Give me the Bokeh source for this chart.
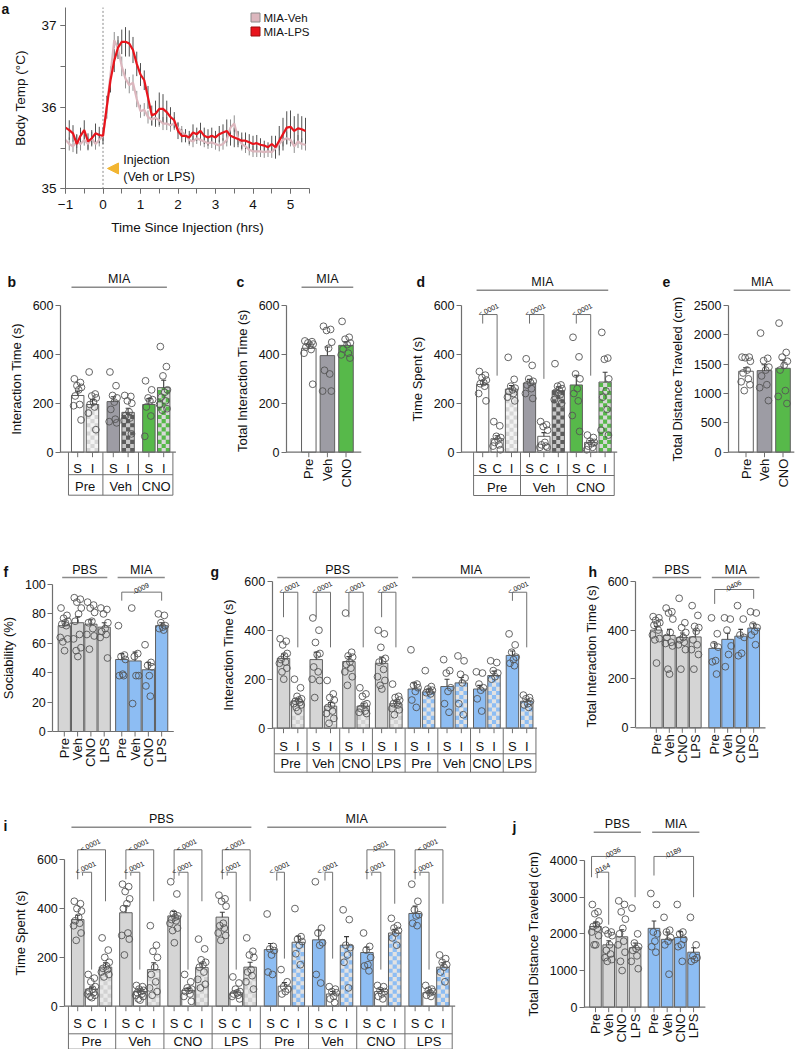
import math
from bokeh.plotting import figure
from bokeh.models import Range1d, Arrow, NormalHead, FixedTicker, SingleIntervalTicker
from bokeh.layouts import row, column
from bokeh.core.properties import value
from bokeh.embed import file_html
from bokeh.resources import INLINE

FONT = "Liberation Sans"

# ---------------- data: panel a (body temperature) ----------------
A_TIME = [-1.0, -0.9, -0.8, -0.7, -0.6, -0.5, -0.4, -0.3, -0.2, -0.1,
          0.0, 0.1, 0.2, 0.3, 0.4, 0.5, 0.6, 0.7, 0.8, 0.9,
          1.0, 1.1, 1.2, 1.3, 1.4, 1.5, 1.6, 1.7, 1.8, 1.9,
          2.0, 2.1, 2.2, 2.3, 2.4, 2.5, 2.6, 2.7, 2.8, 2.9,
          3.0, 3.1, 3.2, 3.3, 3.4, 3.5, 3.6, 3.7, 3.8, 3.9,
          4.0, 4.1, 4.2, 4.3, 4.4, 4.5, 4.6, 4.7, 4.8, 4.9,
          5.0, 5.1, 5.2, 5.3, 5.4]
A_LPS = [35.75, 35.72, 35.68, 35.55, 35.65, 35.72, 35.58, 35.62, 35.68, 35.66,
         35.65, 36.00, 36.33, 36.57, 36.73, 36.80, 36.80, 36.78, 36.70, 36.53,
         36.40, 36.33, 36.12, 35.90, 35.92, 35.98, 35.98, 35.94, 35.88, 35.84,
         35.71, 35.65, 35.65, 35.63, 35.69, 35.67, 35.71, 35.65, 35.63, 35.65,
         35.63, 35.67, 35.69, 35.71, 35.65, 35.63, 35.61, 35.59, 35.59, 35.57,
         35.55, 35.56, 35.54, 35.53, 35.51, 35.55, 35.51, 35.59, 35.67, 35.75,
         35.76, 35.71, 35.74, 35.73, 35.71]
A_LPS_SEM = [0.14, 0.12, 0.10, 0.12, 0.10, 0.12, 0.10, 0.10, 0.12, 0.10,
             0.10, 0.14, 0.15, 0.14, 0.14, 0.15, 0.18, 0.16, 0.16, 0.15,
             0.14, 0.12, 0.14, 0.12, 0.16, 0.20, 0.18, 0.14, 0.12, 0.10,
             0.10, 0.08, 0.08, 0.08, 0.10, 0.08, 0.10, 0.10, 0.10, 0.10,
             0.08, 0.10, 0.10, 0.14, 0.12, 0.12, 0.10, 0.10, 0.10, 0.10,
             0.10, 0.10, 0.08, 0.06, 0.06, 0.10, 0.14, 0.18, 0.20, 0.20,
             0.20, 0.18, 0.18, 0.16, 0.16]
A_VEH = [35.60, 35.55, 35.52, 35.58, 35.55, 35.60, 35.55, 35.62, 35.55, 35.60,
         35.65, 36.00, 36.40, 36.82, 36.72, 36.50, 36.35, 36.27, 36.30, 36.10,
         35.95, 35.97, 35.88, 35.85, 35.87, 35.84, 35.80, 35.80, 35.78, 35.80,
         35.75, 35.70, 35.66, 35.60, 35.58, 35.62, 35.60, 35.58, 35.56, 35.57,
         35.55, 35.53, 35.55, 35.60, 35.75, 35.80, 35.62, 35.55, 35.52, 35.48,
         35.46, 35.46, 35.46, 35.45, 35.46, 35.45, 35.50, 35.55, 35.60, 35.62,
         35.60, 35.52, 35.58, 35.55, 35.54]
A_VEH_SEM = [0.08, 0.08, 0.07, 0.08, 0.08, 0.07, 0.08, 0.08, 0.07, 0.08,
             0.06, 0.08, 0.10, 0.10, 0.10, 0.12, 0.12, 0.10, 0.10, 0.10,
             0.08, 0.08, 0.08, 0.08, 0.08, 0.08, 0.08, 0.08, 0.08, 0.08,
             0.07, 0.07, 0.07, 0.07, 0.07, 0.07, 0.07, 0.07, 0.07, 0.07,
             0.07, 0.07, 0.07, 0.08, 0.10, 0.10, 0.08, 0.08, 0.08, 0.07,
             0.07, 0.07, 0.07, 0.07, 0.07, 0.07, 0.07, 0.08, 0.08, 0.08,
             0.08, 0.08, 0.08, 0.07, 0.07]
A_SERIES = ["MIA-Veh", "MIA-LPS"]

# ---------------- data: panels b-e (MIA, Pre/Veh/CNO) ----------------
BE_GROUPS = ["Pre", "Veh", "CNO"]
B_SUB = ["S", "I"]
B_MEAN = [232, 195, 207, 163, 195, 264]
B_SEM = [18, 20, 20, 17, 24, 30]
B_PTS = [[300, 285, 272, 265, 255, 230, 195, 190, 132],
         [328, 238, 230, 222, 205, 195, 185, 160, 92],
         [328, 272, 232, 222, 205, 175, 135, 125, 120],
         [232, 228, 210, 200, 165, 150, 140, 130, 75],
         [292, 255, 222, 215, 210, 185, 148, 65],
         [432, 350, 312, 255, 245, 225, 210, 195, 178, 172]]

C_MEAN = [425, 395, 437]
C_SEM = [17, 35, 15]
C_PTS = [[455, 452, 447, 442, 438, 430, 420, 405, 278],
         [515, 502, 498, 450, 425, 335, 320, 250, 250],
         [535, 470, 462, 447, 440, 422, 405, 398, 385]]

D_SUB = ["S", "C", "I"]
D_MEAN = [277, 55, 258, 283, 65, 252, 275, 40, 287]
D_SEM = [15, 12, 15, 15, 15, 15, 40, 8, 40]
D_PTS = [[330, 315, 305, 295, 285, 280, 270, 240, 210],
         [125, 108, 65, 60, 50, 40, 30, 25, 10],
         [388, 298, 270, 262, 255, 248, 240, 225, 210],
         [382, 355, 300, 290, 285, 275, 260, 240, 220],
         [125, 112, 105, 90, 40, 30, 25, 20, 20],
         [362, 275, 270, 260, 255, 245, 235, 215, 200],
         [470, 390, 320, 300, 260, 240, 210, 150, 85],
         [70, 60, 45, 40, 35, 25, 20, 10],
         [490, 385, 380, 300, 250, 225, 175, 90, 70]]
D_P = ["<.0001", "<.0001", "<.0001"]

E_MEAN = [1380, 1390, 1430]
E_SEM = [60, 100, 140]
E_PTS = [[1620, 1620, 1610, 1550, 1400, 1350, 1250, 1200, 1150, 1050],
         [2030, 1600, 1560, 1450, 1400, 1300, 1150, 1100, 880],
         [2200, 1700, 1620, 1550, 1480, 1400, 1050, 950, 830]]

# ---------------- data: panels f-j (PBS vs MIA, Pre/Veh/CNO/LPS) ----------------
COHORTS = ["PBS", "MIA"]
FJ_CONDS = ["Pre", "Veh", "CNO", "LPS"]

F_MEAN = [72, 74, 73, 71, 49, 48, 42, 72]
F_SEM = [3, 4, 3, 3, 4, 6, 5, 2]
F_PTS = [[84, 79, 77, 75, 74, 73, 72, 64, 63, 61, 55],
         [91, 90, 88, 84, 80, 75, 66, 63, 57, 55, 51],
         [88, 86, 84, 81, 75, 74, 70, 66, 65, 56],
         [84, 83, 80, 74, 70, 68, 66, 64, 50],
         [72, 52, 51, 49, 39, 38, 38],
         [84, 53, 51, 38, 38, 19],
         [59, 47, 45, 44, 38, 31, 24],
         [80, 79, 74, 72, 71, 70, 69]]
F_P = ".0009"

G_SUB = ["S", "I"]
G_MEAN = [285, 110, 280, 90, 272, 90, 265, 100, 160, 148, 170, 185, 160, 215, 297, 110]
G_SEM = [18, 10, 30, 15, 20, 10, 25, 10, 25, 12, 30, 22, 15, 18, 18, 8]
G_PTS = [[365, 355, 340, 305, 295, 280, 270, 265, 245, 230, 200],
         [200, 165, 130, 120, 115, 110, 105, 100, 95, 85, 70],
         [450, 400, 350, 305, 300, 250, 230, 200, 195, 125],
         [195, 140, 125, 115, 95, 85, 70, 60, 40, 20],
         [470, 310, 295, 290, 270, 260, 245, 230, 210, 175],
         [165, 140, 130, 100, 95, 80, 70, 65, 60],
         [400, 385, 330, 285, 275, 270, 240, 210, 195, 175, 160],
         [180, 130, 125, 115, 105, 100, 95, 80, 75, 55],
         [320, 180, 175, 165, 150, 115, 85],
         [235, 170, 160, 155, 150, 145, 140],
         [280, 235, 225, 165, 150, 100, 65],
         [295, 275, 220, 205, 185, 100, 55],
         [230, 225, 180, 165, 155, 120, 70],
         [275, 268, 235, 225, 210, 200],
         [385, 340, 310, 290, 280, 265, 255],
         [135, 125, 120, 110, 100, 95, 85]]
G_P = ["<.0001", "<.0001", "<.0001", "<.0001", "<.0001"]

H_MEAN = [400, 378, 370, 372, 325, 362, 375, 408]
H_SEM = [15, 25, 18, 25, 22, 25, 28, 18]
H_PTS = [[455, 450, 440, 430, 425, 420, 400, 380, 365, 360, 265],
         [490, 475, 470, 445, 390, 370, 350, 345, 335, 240, 220],
         [530, 430, 410, 390, 370, 360, 350, 340, 320, 240],
         [500, 460, 415, 410, 395, 360, 340, 320, 300, 240],
         [450, 385, 340, 330, 275, 270, 220],
         [450, 445, 400, 335, 300, 250],
         [500, 445, 380, 370, 305, 295],
         [475, 470, 420, 410, 395, 380, 340]]
H_P = ".0406"

I_SUB = ["S", "C", "I"]
I_MEAN = [355, 70, 160, 383, 60, 150, 370, 65, 158, 365, 55, 160,
          232, 82, 262, 272, 50, 250, 220, 60, 300, 380, 55, 160]
I_SEM = [18, 8, 18, 28, 6, 28, 18, 8, 18, 20, 7, 20,
         25, 15, 25, 40, 10, 35, 22, 8, 15, 30, 8, 18]
I_PTS = [[430, 420, 400, 390, 365, 350, 340, 330, 300, 270],
         [130, 115, 100, 80, 70, 60, 55, 50, 45, 40, 35],
         [280, 230, 200, 180, 165, 155, 150, 140, 130, 120],
         [500, 490, 470, 440, 420, 400, 300, 290, 275, 210],
         [85, 80, 70, 65, 60, 55, 50, 45, 40, 30, 25],
         [330, 250, 225, 200, 160, 130, 100, 75, 60, 45],
         [510, 460, 380, 370, 365, 355, 350, 340, 320, 310, 260],
         [130, 100, 75, 70, 65, 60, 50, 40, 20],
         [275, 235, 190, 180, 170, 160, 140, 110, 90, 75],
         [455, 440, 430, 410, 340, 330, 320, 300, 290, 270],
         [120, 95, 70, 60, 55, 50, 45, 40, 30],
         [280, 225, 210, 200, 150, 140, 125, 100, 70],
         [378, 245, 235, 228, 210, 140, 130],
         [150, 100, 80, 70, 60, 50],
         [400, 285, 275, 265, 250, 215, 170],
         [510, 320, 300, 260, 250, 130, 95],
         [80, 70, 60, 55, 40, 30, 15],
         [395, 355, 250, 240, 210, 180, 75],
         [300, 245, 230, 200, 170, 165, 145],
         [85, 80, 65, 60, 50, 40, 30],
         [360, 330, 320, 310, 300, 280, 250],
         [500, 430, 395, 375, 370, 340, 330],
         [85, 70, 65, 60, 55, 45, 40],
         [210, 195, 180, 170, 160, 140, 100]]
I_P_OUTER = ["<.0001", "<.0001", "<.0001", "<.0001", None, None, ".0301", "<.0001"]
I_P_INNER = ["<.0001"] * 8

J_MEAN = [2200, 1700, 1920, 1620, 2150, 1850, 1900, 1500]
J_SEM = [120, 110, 190, 130, 200, 200, 160, 120]
J_PTS = [[2800, 2600, 2550, 2350, 2250, 2200, 2150, 2050, 1950, 1700, 1700],
         [2100, 2050, 2000, 1950, 1700, 1550, 1450, 1350, 1300, 1250],
         [2900, 2800, 2600, 2400, 2150, 2000, 1800, 1700, 1500, 1250, 1000],
         [2700, 2000, 1750, 1650, 1600, 1550, 1400, 1250, 1050],
         [3100, 2800, 2050, 2000, 1800, 1650, 1500],
         [2450, 2100, 2050, 1900, 1800, 1700, 900],
         [2800, 2050, 2000, 1850, 1700, 1650, 1250],
         [2450, 1700, 1400, 1350, 1300, 1250]]
J_P = [".0036", ".0164", ".0189"]

# ---------------- styles ----------------
AXC = "#6f6f6f"
EDGE = "#5f5f5f"
ERRC = "#3a3a3a"
PTC = "#555555"
HDRC = "#8a8a8a"
TXT = "#111111"
WHITE = "#ffffff"
LGRAY = "#d5d5d5"
GRAY = "#9d9ca4"
GREEN = "#57b94a"
BLUE = "#8dbdf3"
PINK = "#dcb7be"
RED = "#e8141c"
ORANGE = "#f2b531"
JIT = [-0.27, 0.22, -0.06, 0.3, 0.08, -0.2, 0.16, -0.33, 0.27, -0.12, 0.02, -0.24]


def style_text(**kw):
    d = dict(text_font=value(FONT), text_color=TXT)
    d.update(kw)
    return d


class BarPanel:
    """Figure whose frame fills its whole box; the y axis sits at a fixed data x."""
    def __init__(self, box, axis_px, x0, pitch, y0, ppu):
        bl, bt, bw, bh = box
        lx0, ly0 = x0 - bl, y0 - bt
        self.pitch, self.ppu, self.x0, self.y0 = pitch, ppu, x0, y0
        p = figure(width=bw, height=bh, output_backend="svg", toolbar_location=None,
                   x_axis_location=None,
                   x_range=Range1d(-lx0 / pitch, (bw - lx0) / pitch),
                   y_range=Range1d((ly0 - bh) / ppu, ly0 / ppu),
                   min_border=0, min_border_left=0, min_border_right=0,
                   min_border_top=0, min_border_bottom=0)
        p.outline_line_color = None
        p.grid.visible = False
        self.p = p
        self.axis_x = (axis_px - x0) / pitch

    def hx(self, px):
        return px / self.pitch

    def hy(self, px):
        return px / self.ppu

    def ref(self, rx, ry):
        return (rx - self.x0) / self.pitch, (self.y0 - ry) / self.ppu


def setup_yaxis(bp, top, ticks, label):
    ax = bp.p.yaxis[0]
    ax.fixed_location = bp.axis_x
    ax.bounds = (0, top)
    ax.ticker = FixedTicker(ticks=ticks)
    ax.axis_label = label
    ax.axis_label_text_font = FONT
    ax.axis_label_text_font_size = "13px"
    ax.axis_label_text_font_style = "normal"
    ax.axis_label_text_color = TXT
    ax.axis_label_standoff = 6
    ax.major_label_text_font = FONT
    ax.major_label_text_font_size = "12.5px"
    ax.major_label_text_color = TXT
    ax.major_label_standoff = 2
    ax.major_tick_out = 5
    ax.major_tick_in = 0
    ax.minor_tick_out = 0
    ax.minor_tick_in = 0
    ax.axis_line_color = AXC
    ax.major_tick_line_color = AXC
    ax.axis_line_width = 1.2
    ax.major_tick_line_width = 1.2


def draw_bars(bp, xs, means, sems, styles, pts, w):
    p = bp.p
    p.vbar(x=xs, top=means, width=w, fill_color=[s[0] for s in styles], line_color=None)
    cw = w / 3.0
    ch = cw * bp.pitch / bp.ppu
    cx, cy, chh, cc = [], [], [], []
    for x, m, s in zip(xs, means, styles):
        if s[1] is None:
            continue
        n = int(math.ceil(m / ch))
        for r in range(n):
            lo = r * ch
            hi = min(m, lo + ch)
            for c in range(3):
                if (r + c) % 2 == 0:
                    cx.append(x - w / 2 + (c + 0.5) * cw)
                    cy.append((lo + hi) / 2)
                    chh.append(hi - lo)
                    cc.append(s[1])
    if cx:
        p.rect(x=cx, y=cy, width=[cw] * len(cx), height=chh, fill_color=cc, line_color=None)
    p.vbar(x=xs, top=means, width=w, fill_color=None, line_color=EDGE, line_width=1)
    tops = [m + e for m, e in zip(means, sems)]
    p.segment(x0=xs, y0=means, x1=xs, y1=tops, line_color=ERRC, line_width=1.1)
    cap = w * 0.2
    p.segment(x0=[x - cap for x in xs], y0=tops, x1=[x + cap for x in xs], y1=tops,
              line_color=ERRC, line_width=1.1)
    px, py = [], []
    for x, ps in zip(xs, pts):
        for k, v in enumerate(ps):
            px.append(x + JIT[k % len(JIT)] * w)
            py.append(v)
    p.scatter(x=px, y=py, marker="circle", size=6.8, fill_alpha=0, line_color=PTC, line_width=0.9)


def draw_baseline(bp, x_end):
    bp.p.segment(x0=[bp.axis_x], y0=[0], x1=[x_end], y1=[0], line_color=AXC, line_width=1.2)


def draw_table(bp, groups, sub, glabels, w, t1, r1, t2, r2, margin=3.0, tick=5.0):
    p = bp.p
    m = bp.hx(margin)
    divs = [groups[0][0] - w / 2 - m]
    for a, b in zip(groups[:-1], groups[1:]):
        divs.append((a[-1] + b[0]) / 2)
    divs.append(groups[-1][-1] + w / 2 + m)
    yb, ym = -bp.hy(r2), -bp.hy(r1)
    p.segment(x0=divs, y0=[0] * len(divs), x1=divs, y1=[yb] * len(divs), line_color=AXC, line_width=1)
    p.segment(x0=[divs[0]] * 2, y0=[ym, yb], x1=[divs[-1]] * 2, y1=[ym, yb], line_color=AXC, line_width=1)
    allx = [x for g in groups for x in g]
    n = len(allx)
    p.segment(x0=allx, y0=[0] * n, x1=allx, y1=[-bp.hy(tick)] * n, line_color=AXC, line_width=1)
    p.text(x=allx, y=[-bp.hy(t1)] * n, text=sub,
           **style_text(text_align="center", text_baseline="middle", text_font_size="13px"))
    gx = [(g[0] + g[-1]) / 2 for g in groups]
    p.text(x=gx, y=[-bp.hy(t2)] * len(gx), text=glabels,
           **style_text(text_align="center", text_baseline="middle", text_font_size="13px"))


def draw_rot(bp, xs, labels, tick=5.0, gap=6.5):
    p = bp.p
    n = len(xs)
    p.segment(x0=xs, y0=[0] * n, x1=xs, y1=[-bp.hy(tick)] * n, line_color=AXC, line_width=1)
    p.text(x=xs, y=[-bp.hy(gap)] * n, text=labels, angle=math.pi / 2,
           **style_text(text_align="right", text_baseline="middle", text_font_size="13px"))


def draw_header(bp, label, xl, xr, h_px):
    y = bp.hy(h_px)
    bp.p.segment(x0=[xl], y0=[y], x1=[xr], y1=[y], line_color=HDRC, line_width=1.6)
    bp.p.text(x=[(xl + xr) / 2], y=[y + bp.hy(8)], text=[label],
              **style_text(text_align="center", text_baseline="middle", text_font_size="12.5px"))


def draw_bracket(bp, xl, xr, top, lb, rb, label):
    bp.p.line(x=[xl, xl, xr, xr], y=[lb, top, top, rb], line_color="#707070", line_width=1)
    if label:
        bp.p.text(x=[(xl + xr) / 2], y=[top + bp.hy(1.5)], text=[label], angle=math.radians(25),
                  **style_text(text_align="center", text_baseline="bottom", text_font_size="7px"))


def letter(bp, t, rx, ry):
    x, y = bp.ref(rx, ry)
    bp.p.text(x=[x], y=[y], text=[t],
              **style_text(text_align="left", text_baseline="middle", text_font_size="14px",
                           text_font_style="bold"))


# ================= panel a =================
# x: hours, 37.5 px per hour, t=-1 at px 65 ; y: degC, 81.7 px per degree, 37 at px 25
A_PXH, A_PXT = 37.5, 81.7
pa = figure(width=340, height=255, output_backend="svg", toolbar_location=None,
            x_range=Range1d(-1 - 65 / A_PXH, -1 + (340 - 65) / A_PXH),
            y_range=Range1d(37 - (255 - 25) / A_PXT, 37 + 25 / A_PXT),
            min_border=0, min_border_left=0, min_border_right=0,
            min_border_top=0, min_border_bottom=0)
pa.outline_line_color = None
pa.grid.visible = False
pa.segment(x0=[0], y0=[35], x1=[0], y1=[37.22], line_color="#8a8a8a", line_dash="2 2", line_width=1)
pa.segment(x0=A_TIME, y0=[m - s for m, s in zip(A_VEH, A_VEH_SEM)], x1=A_TIME,
           y1=[m + s for m, s in zip(A_VEH, A_VEH_SEM)], line_color="#8e8e8e", line_width=1)
pa.segment(x0=A_TIME, y0=[m - s for m, s in zip(A_LPS, A_LPS_SEM)], x1=A_TIME,
           y1=[m + s for m, s in zip(A_LPS, A_LPS_SEM)], line_color="#4f4f4f", line_width=1)
pa.line(x=A_TIME, y=A_VEH, line_color=PINK, line_width=2.2)
pa.line(x=A_TIME, y=A_LPS, line_color=RED, line_width=2.2)
# legend swatches
leg_x = -1 + (255 - 65) / A_PXH
leg_y = [37 - (17 - 25) / A_PXT, 37 - (31 - 25) / A_PXT]
pa.scatter(x=[leg_x, leg_x], y=leg_y, marker="square", size=9,
           fill_color=[PINK, RED], line_color=["#8c8c8c", "#9a1010"], line_width=1)
pa.text(x=[leg_x + 8 / A_PXH] * 2, y=leg_y, text=A_SERIES,
        **style_text(text_align="left", text_baseline="middle", text_font_size="11.5px"))
pa.add_layout(Arrow(end=NormalHead(size=11, fill_color=ORANGE, line_color=ORANGE),
                    x_start=0.42, y_start=35.25, x_end=0.12, y_end=35.25,
                    line_color=ORANGE, line_width=5))
pa.text(x=[0.54, 0.54], y=[35.35, 35.14], text=["Injection", "(Veh or LPS)"],
        **style_text(text_align="left", text_baseline="middle", text_font_size="12.5px"))
for ax, lab in ((pa.xaxis[0], "Time Since Injection (hrs)"), (pa.yaxis[0], "Body Temp (°C)")):
    ax.ticker = SingleIntervalTicker(interval=1, num_minor_ticks=2)
    ax.axis_label = lab
    ax.axis_label_text_font = FONT
    ax.axis_label_text_font_size = "13.5px"
    ax.axis_label_text_font_style = "normal"
    ax.axis_label_text_color = TXT
    ax.major_label_text_font = FONT
    ax.major_label_text_font_size = "13.5px"
    ax.major_label_text_color = TXT
    ax.major_tick_out = 5
    ax.major_tick_in = 0
    ax.minor_tick_out = 5
    ax.minor_tick_in = 0
    ax.axis_line_color = AXC
    ax.major_tick_line_color = AXC
    ax.minor_tick_line_color = AXC
pa.xaxis[0].fixed_location = 35
pa.xaxis[0].bounds = (-1, 5.5)
pa.yaxis[0].fixed_location = -1
pa.yaxis[0].bounds = (35, 37.22)
pa.xaxis[0].major_label_standoff = 6
pa.xaxis[0].axis_label_standoff = 8
pa.yaxis[0].major_label_standoff = 4
pa.yaxis[0].axis_label_standoff = 10
pa.text(x=[-1 + (1 - 65) / A_PXH], y=[37 - (8 - 25) / A_PXT], text=["a"],
        **style_text(text_align="left", text_baseline="middle", text_font_size="14px",
                     text_font_style="bold"))

# ================= panel b =================
pb = BarPanel((0, 255, 230, 255), 60, 77.2, 14.8, 451.7, 146.7 / 600)
wb = 0.84
xb = [g * 2.405 + j for g in range(3) for j in range(2)]
sb = [(WHITE, None), ("#f3f3f3", "#d6d6d6"), (GRAY, None), ("#c8c8c8", "#5d5d5d"),
      (GREEN, None), ("#d8d8d8", GREEN)]
draw_bars(pb, xb, B_MEAN, B_SEM, sb, B_PTS, wb)
draw_baseline(pb, xb[-1] + wb / 2 + pb.hx(6))
draw_table(pb, [xb[0:2], xb[2:4], xb[4:6]], B_SUB * 3, BE_GROUPS, wb, 16.6, 22.5, 34.5, 43)
draw_header(pb, "MIA", xb[0] - wb / 2, xb[-1] + wb / 2 - pb.hx(3), 165)
setup_yaxis(pb, 600, [0, 200, 400, 600], "Interaction Time (s)")
letter(pb, "b", 7, 281)

# ================= panel c =================
pc = BarPanel((230, 255, 180, 255), 286, 308.3, 18.6, 451.7, 146.7 / 600)
wc = 0.78
xc = [0, 1, 2]
draw_bars(pc, xc, C_MEAN, C_SEM, [(WHITE, None), (GRAY, None), (GREEN, None)], C_PTS, wc)
draw_baseline(pc, xc[-1] + wc / 2 + pc.hx(8))
draw_rot(pc, xc, BE_GROUPS)
draw_header(pc, "MIA", xc[0] - wc / 2, xc[-1] + wc / 2, 165)
setup_yaxis(pc, 600, [0, 200, 400, 600], "Total  Interaction Time (s)")
letter(pc, "c", 236, 281)

# ================= panel d =================
pd_ = BarPanel((410, 255, 245, 255), 461, 482.2, 14.4, 451.7, 146.7 / 600)
wd = 0.85
xd = [g * 3.25 + j for g in range(3) for j in range(3)]
sd = [(WHITE, None), (WHITE, None), ("#f3f3f3", "#d6d6d6"),
      (GRAY, None), (WHITE, None), ("#c8c8c8", "#5d5d5d"),
      (GREEN, None), (WHITE, None), ("#d8d8d8", GREEN)]
draw_bars(pd_, xd, D_MEAN, D_SEM, sd, D_PTS, wd)
draw_baseline(pd_, xd[-1] + wd / 2 + pd_.hx(6))
draw_table(pd_, [xd[0:3], xd[3:6], xd[6:9]], D_SUB * 3, BE_GROUPS, wd, 16.6, 23.3, 35, 43.3)
for g in range(3):
    draw_bracket(pd_, xd[3 * g], xd[3 * g + 1], 563, 526, [313, 300, 313][g], D_P[g])
draw_header(pd_, "MIA", xd[0] - wd / 2, xd[-1] + wd / 2 - pd_.hx(3), 162)
setup_yaxis(pd_, 600, [0, 200, 400, 600], "Time Spent (s)")
letter(pd_, "d", 416, 281)

# ================= panel e =================
pe = BarPanel((655, 255, 142, 255), 728, 745.5, 18.5, 451.7, 146.7 / 2500)
we = 0.79
xe = [0, 1, 2]
draw_bars(pe, xe, E_MEAN, E_SEM, [(WHITE, None), (GRAY, None), (GREEN, None)], E_PTS, we)
draw_baseline(pe, xe[-1] + we / 2 + pe.hx(4))
draw_rot(pe, xe, BE_GROUPS)
draw_header(pe, "MIA", xe[0] - we / 2 - pe.hx(5), xe[-1] + we / 2, 162)
setup_yaxis(pe, 2500, [0, 500, 1000, 1500, 2000, 2500], "Total Distance Traveled (cm)")
letter(pe, "e", 662, 281)

# ================= panel f =================
pf = BarPanel((0, 510, 205, 290), 52.3, 63.8, 13.3, 731, 1.47)
wf = 0.92
xf = [0, 1, 2, 3, 4.32, 5.32, 6.32, 7.32]
sf = [(LGRAY, None)] * 4 + [(BLUE, None)] * 4
draw_bars(pf, xf, F_MEAN, F_SEM, sf, F_PTS, wf)
draw_baseline(pf, xf[-1] + wf / 2 + pf.hx(6))
draw_rot(pf, xf, FJ_CONDS * 2)
draw_bracket(pf, xf[4], xf[7], 94.8, 89, 89, F_P)
draw_header(pf, COHORTS[0], xf[0] - wf / 2 + pf.hx(4), xf[3] + wf / 2 - pf.hx(3), 154)
draw_header(pf, COHORTS[1], xf[4] - wf / 2 + pf.hx(2), xf[7] + wf / 2 - pf.hx(3), 154)
setup_yaxis(pf, 100, [0, 20, 40, 60, 80, 100], "Sociability (%)")
letter(pf, "f", 3, 571)

# ================= panel g =================
pg = BarPanel((205, 510, 378, 290), 271.7, 283, 14.3, 727.7, 147 / 600)
wg = 0.87
xg = [g * 2.287 + j for g in range(8) for j in range(2)]
sg = ([(LGRAY, None), ("#e9e9e9", "#d2d2d2")] * 4 + [(BLUE, None), ("#e2e2e2", BLUE)] * 4)
draw_bars(pg, xg, G_MEAN, G_SEM, sg, G_PTS, wg)
draw_baseline(pg, xg[-1] + wg / 2 + pg.hx(4))
draw_table(pg, [xg[2 * k:2 * k + 2] for k in range(8)], G_SUB * 8, FJ_CONDS * 2, wg, 18, 25.6, 35.6, 44)
for g in range(4):
    draw_bracket(pg, xg[2 * g], xg[2 * g + 1], 555, 453, 330, G_P[g])
draw_bracket(pg, xg[14], xg[15], 555, 520, 330, G_P[4])
draw_header(pg, COHORTS[0], xg[0] - wg / 2, xg[7] + wg / 2 - pg.hx(4), 150.7)
draw_header(pg, COHORTS[1], xg[8] - wg / 2 + pg.hx(4), xg[15] + wg / 2 - pg.hx(3), 150.7)
setup_yaxis(pg, 600, [0, 200, 400, 600], "Interaction Time (s)")
letter(pg, "g", 210, 571)

# ================= panel h =================
ph = BarPanel((583, 510, 214, 290), 635, 655.8, 13.0, 727.3, 146.6 / 600)
wh = 0.9
xh = [0, 1, 2, 3, 4.49, 5.49, 6.49, 7.49]
draw_bars(ph, xh, H_MEAN, H_SEM, sf, H_PTS, wh)
draw_baseline(ph, xh[-1] + wh / 2 + ph.hx(6))
draw_rot(ph, xh, FJ_CONDS * 2)
draw_bracket(ph, xh[4], xh[7], 566, 507, 528, H_P)
draw_header(ph, COHORTS[0], xh[0] - wh / 2 + ph.hx(2), xh[3] + wh / 2, 150.3)
draw_header(ph, COHORTS[1], xh[4] - wh / 2 + ph.hx(3), xh[7] + wh / 2, 150.3)
setup_yaxis(ph, 600, [0, 200, 400, 600], "Total  Interaction Time (s)")
letter(ph, "h", 588, 571)

# ================= panel i =================
pi_ = BarPanel((0, 800, 505, 249), 64.3, 77.2, 13.9, 1005.7, 146.4 / 600)
wi = 0.9
xi = [g * 3.468 + j for g in range(8) for j in range(3)]
si = ([(LGRAY, None), (WHITE, None), ("#e9e9e9", "#d2d2d2")] * 4 +
      [(BLUE, None), (WHITE, None), ("#e2e2e2", BLUE)] * 4)
draw_bars(pi_, xi, I_MEAN, I_SEM, si, I_PTS, wi)
draw_baseline(pi_, xi[-1] + wi / 2 + pi_.hx(6))
draw_table(pi_, [xi[3 * k:3 * k + 3] for k in range(8)], I_SUB * 8, FJ_CONDS * 2, wi, 17, 27.6, 35, 43)
for g in range(8):
    s, c, i = xi[3 * g], xi[3 * g + 1], xi[3 * g + 2]
    if I_P_OUTER[g]:
        draw_bracket(pi_, s, i, 641, 520, 430 if g < 4 else 420, I_P_OUTER[g])
        draw_bracket(pi_, s + 0.35, c, 549, 535, 150, I_P_INNER[g])
    else:
        draw_bracket(pi_, s + 0.45, c, 549, 515, 195, I_P_INNER[g])
draw_header(pi_, COHORTS[0], xi[0] - wi / 2, xi[11] + wi / 2 - pi_.hx(5), 179)
draw_header(pi_, COHORTS[1], xi[12] - wi / 2 + pi_.hx(3), xi[23] + wi / 2 - pi_.hx(3), 179)
setup_yaxis(pi_, 600, [0, 200, 400, 600], "Time Spent (s)")
letter(pi_, "i", 3, 825)

# ================= panel j =================
pj = BarPanel((505, 800, 292, 249), 584, 595, 13.2, 1006.7, 146.7 / 4000)
wj = 0.88
xj = [0, 1, 2, 3, 4.43, 5.43, 6.43, 7.43]
draw_bars(pj, xj, J_MEAN, J_SEM, sf, J_PTS, wj)
draw_baseline(pj, xj[-1] + wj / 2 + pj.hx(6))
draw_rot(pj, xj, FJ_CONDS * 2)
draw_bracket(pj, xj[0] - 0.3, xj[3], 4110, 3545, 3000, J_P[0])
draw_bracket(pj, xj[0] + 0.13, xj[1], 3682, 3520, 2250, J_P[1])
draw_bracket(pj, xj[4], xj[7], 4110, 3590, 3000, J_P[2])
draw_header(pj, COHORTS[0], xj[0] - wj / 2 + pj.hx(4), xj[3] + wj / 2, 175)
draw_header(pj, COHORTS[1], xj[4] - wj / 2 + pj.hx(4), xj[7] + wj / 2, 175)
setup_yaxis(pj, 4000, [0, 1000, 2000, 3000, 4000], "Total Distance Traveled (cm)")
letter(pj, "j", 512, 826)

layout = column(row(pa),
                row(pb.p, pc.p, pd_.p, pe.p),
                row(pf.p, pg.p, ph.p),
                row(pi_.p, pj.p))

open("out.html", "w").write(file_html(layout, INLINE))
